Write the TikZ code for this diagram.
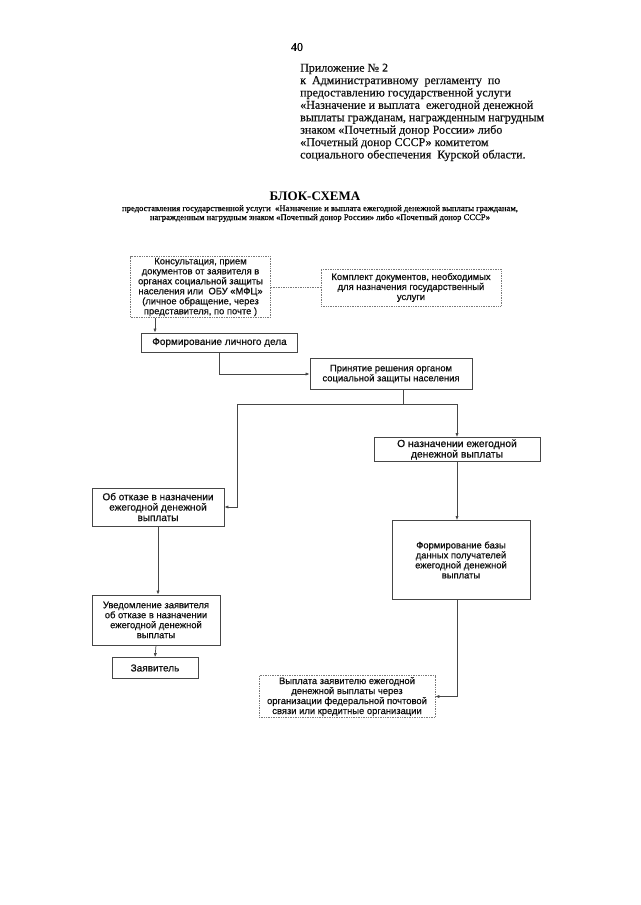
\documentclass[tikz,border=0pt]{standalone}
\usepackage{fontspec}
\setmainfont{Liberation Serif}
\setsansfont{Liberation Sans}
\newfontfamily\boxfont{Liberation Sans}[FakeBold=0.6]
\newfontfamily\headfont{Liberation Serif}[FakeBold=0.4]
\usepackage{xcolor}
\usepackage{tikz}
\usetikzlibrary{arrows.meta,positioning,calc}
\definecolor{boxline}{RGB}{70,70,70}
\definecolor{dotline}{RGB}{120,120,120}
\definecolor{inkblack}{RGB}{15,15,15}
\tikzset{
  solidbox/.style={draw=boxline, line width=0.8pt, align=center, inner sep=1pt,
    text=inkblack, font=\boxfont\fontsize{9.4}{10}\selectfont},
  dotbox/.style={draw=dotline, line width=0.7pt, densely dotted, align=center, inner sep=1pt,
    text=inkblack, font=\boxfont\fontsize{9.4}{10}\selectfont},
  flow/.style={-{Latex[length=4pt,width=3.2pt]}, line width=0.7pt, draw=boxline},
  plainline/.style={line width=0.7pt, draw=boxline},
  dotlink/.style={line width=0.7pt, densely dotted, draw=dotline},
  headtext/.style={align=left, anchor=north west, inner sep=0pt, text=inkblack,
    font=\headfont\fontsize{12}{12.4}\selectfont}
}

\begin{document}
\begin{tikzpicture}[x=1pt,y=-1pt]
\useasboundingbox[fill=white] (0,0) rectangle (640,905);

% page number and appendix header
\node[inner sep=0pt, font=\headfont\fontsize{12}{12}\selectfont] (pagenum) at (297,47) {40};
\node[headtext] (appx) at (300,63.5) {Приложение № 2\\
к~~Административному~~регламенту~~по\\
предоставлению государственной услуги\\
«Назначение и выплата~~ежегодной денежной\\
выплаты гражданам, награжденным нагрудным\\
знаком «Почетный донор России» либо\\
«Почетный донор СССР» комитетом\\
социального обеспечения~~Курской области.};

% title
\node[inner sep=0pt, font=\bfseries\fontsize{13}{14}\selectfont] (title) at (315,196) {БЛОК-СХЕМА};
\node[inner sep=0pt, align=center, font=\headfont\fontsize{8.6}{9}\selectfont] (subtitle) at (320,213.5)
  {предоставления государственной услуги~~«Назначение и выплата ежегодной денежной выплаты гражданам,\\
  награжденным нагрудным знаком «Почетный донор России» либо «Почетный донор СССР»};

% boxes
\node[dotbox, minimum width=140pt, minimum height=60pt] (konsult) at (200.5,287)
  {Консультация, прием\\документов от заявителя в\\органах социальной защиты\\населения или~~ОБУ «МФЦ»\\(личное обращение, через\\представителя, по почте )};
\node[dotbox, minimum width=180pt, minimum height=37pt] (komplekt) at (411,287.5)
  {Комплект документов, необходимых\\для назначения государственный\\услуги};
\node[solidbox, minimum width=156pt, minimum height=19pt, font=\boxfont\fontsize{10}{10}\selectfont] (lichnoe) at (219.5,342.5)
  {Формирование личного дела};
\node[solidbox, minimum width=162pt, minimum height=31pt] (reshenie) at (391,374)
  {Принятие решения органом\\социальной защиты населения};
\node[solidbox, minimum width=166pt, minimum height=24pt, font=\boxfont\fontsize{10.3}{10.6}\selectfont] (naznach) at (457,449.5)
  {О назначении ежегодной\\денежной выплаты};
\node[solidbox, minimum width=132pt, minimum height=38pt, font=\boxfont\fontsize{10}{10.4}\selectfont] (otkaz) at (158,507)
  {Об отказе в назначении\\ежегодной денежной\\выплаты};
\node[solidbox, minimum width=138pt, minimum height=79pt] (baza) at (461,560)
  {Формирование базы\\данных получателей\\ежегодной денежной\\выплаты};
\node[solidbox, minimum width=128pt, minimum height=50pt] (uvedoml) at (156,620)
  {Уведомление заявителя\\об отказе в назначении\\ежегодной денежной\\выплаты};
\node[solidbox, minimum width=86pt, minimum height=21pt, font=\boxfont\fontsize{10}{10}\selectfont] (zayav) at (155,668)
  {Заявитель};
\node[dotbox, minimum width=176pt, minimum height=42pt] (vyplata) at (347,696.5)
  {Выплата заявителю ежегодной\\денежной выплаты через\\организации федеральной почтовой\\связи или кредитные организации};

% connectors
\draw[dotlink] (konsult.east) -- (konsult.east -| komplekt.west);
\draw[flow] ([xshift=-45.5pt]konsult.south) -- ([xshift=-45.5pt]konsult.south |- lichnoe.north);
\draw[flow] (lichnoe.south) |- (reshenie.west);
\coordinate (split) at (403,404);
\coordinate (lbend) at (237,404);
\draw[plainline] (split |- reshenie.south) -- (split);
\draw[flow] (split) -| (naznach.north);
\draw[flow] (split) -- (lbend) |- (otkaz.east);
\draw[flow] (naznach.south) -- (naznach.south |- baza.north);
\draw[flow] (naznach.south |- baza.south) |- (vyplata.east);
\draw[flow] (otkaz.south) -- (otkaz.south |- uvedoml.north);
\draw[flow] (uvedoml.south) -- (zayav.north);
\end{tikzpicture}
\end{document}
